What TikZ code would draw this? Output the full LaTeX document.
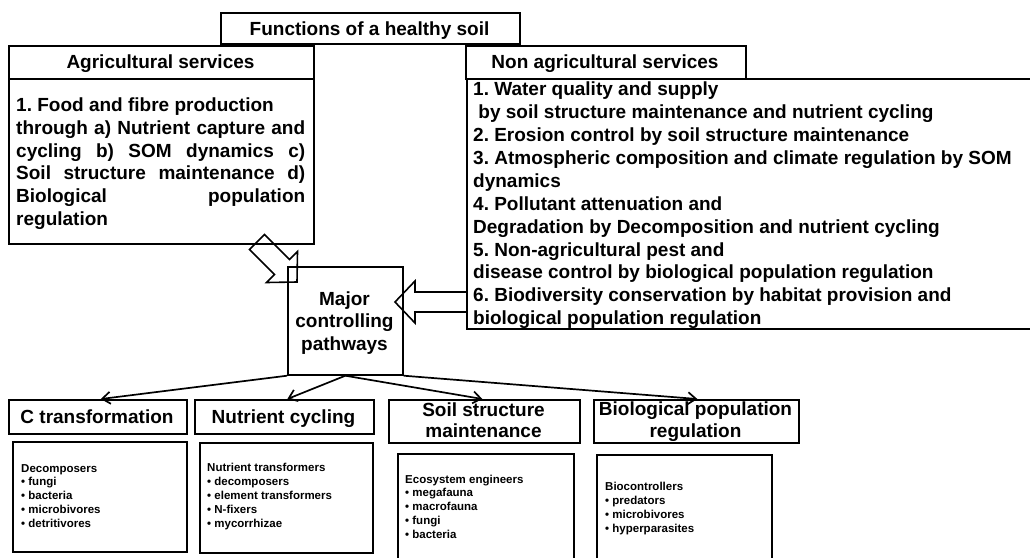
\documentclass[tikz,border=0pt]{standalone}
\usepackage{fontspec}
\setmainfont{Liberation Sans}
\usetikzlibrary{arrows.meta}
\frenchspacing
\newcommand\myml[2]{\vtop{\baselineskip=#1\relax\lineskiplimit=-50pt\relax\lineskip=0pt\relax #2}}
\newcommand\myL[1]{\hbox{#1}}
\newcommand\myC[1]{\hbox to 0pt{\hss#1\hss}}
\newcommand\myJ[2]{\hbox{\makebox[#1][s]{#2}}}
\begin{document}
\frenchspacing
\begin{tikzpicture}[x=1pt,y=-1pt,
  box/.style={draw, line width=1.7pt, inner sep=0pt, anchor=north west},
  big/.style={inner sep=0pt, font=\fontsize{19}{23}\selectfont\bfseries\frenchspacing},
  small/.style={inner sep=0pt, anchor=base west, font=\fontsize{11.5}{13.9}\selectfont\bfseries},
  conn/.style={line width=1.7pt, -{Straight Barb[length=8pt,width=12pt,line width=1.7pt]}},
  blockarrow/.style={line width=1.6pt, line join=miter}]
\useasboundingbox (0,0) rectangle (1030,557);
\clip (0,0) rectangle (1030,557);
% top boxes
\node[box, minimum width=299pt, minimum height=31pt] (title) at (220,12) {};
\node[big, anchor=base] (titletext) at (369.5,35) {Functions of a healthy soil};
\node[box, minimum width=305pt, minimum height=33pt] (agrihead) at (8,45) {};
\node[big, anchor=base] (agriheadtext) at (160.5,68) {Agricultural services};
\node[box, minimum width=305pt, minimum height=165pt] (agribody) at (8,78) {};
\node[big, anchor=base west] (agritext) at (16,111.7) {\myml{22.7pt}{%
\myL{1. Food and fibre production}%
\myJ{289pt}{through a) Nutrient capture and}%
\myJ{289pt}{cycling b) SOM dynamics c)}%
\myJ{289pt}{Soil structure maintenance d)}%
\myJ{289pt}{Biological population}%
\myL{regulation}}};
\node[box, minimum width=280pt, minimum height=33pt] (nonhead) at (465,45) {};
\node[big, anchor=base] (nonheadtext) at (605,68) {Non agricultural services};
\node[box, minimum width=580pt, minimum height=250pt] (nonbody) at (466,78) {};
\node[big, anchor=base west] (nontext) at (473,95.7) {\myml{22.9pt}{%
\myL{1. Water quality and supply}%
\myL{\ by soil structure maintenance and nutrient cycling}%
\myL{2. Erosion control by soil structure maintenance}%
\myL{3. Atmospheric composition and climate regulation by SOM}%
\myL{dynamics}%
\myL{4. Pollutant attenuation and}%
\myL{Degradation by Decomposition and nutrient cycling}%
\myL{5. Non-agricultural pest and}%
\myL{disease control by biological population regulation}%
\myL{6. Biodiversity conservation by habitat provision and}%
\myL{biological population regulation}}};
% major box
\node[box, minimum width=115pt, minimum height=108pt] (major) at (287,266) {};
\node[big, anchor=base] (majortext) at (344.5,305) {\myml{22.5pt}{\myC{Major}\myC{controlling}\myC{pathways}}};
% block arrows
\draw[blockarrow] (249.5,249.5) -- (274.5,274.5) -- (266.5,282.5) -- (297,282) -- (297.5,251.5) -- (289.5,259.5) -- (264.5,234.5) -- cycle;
\draw[blockarrow] (466,292) -- (415,292) -- (415,281) -- (395,302) -- (415,323) -- (415,312) -- (466,312);
% bottom headers
\node[box, minimum width=178pt, minimum height=34pt] (chead) at (8,399) {};
\node[big, anchor=base] (cheadtext) at (97,423) {C transformation};
\node[box, minimum width=179pt, minimum height=34pt] (nhead) at (194,399) {};
\node[big, anchor=base] (nheadtext) at (283.5,423) {Nutrient cycling};
\node[box, minimum width=191pt, minimum height=43pt] (shead) at (388,399) {};
\node[big, anchor=base] (sheadtext) at (483.5,416) {\myml{21pt}{\myC{Soil structure}\myC{maintenance}}};
\node[box, minimum width=205pt, minimum height=43pt] (bhead) at (593,399) {};
\node[big, anchor=base] (bheadtext) at (695.5,415) {\myml{22pt}{\myC{Biological population}\myC{regulation}}};
% bottom boxes
\node[box, minimum width=174pt, minimum height=110pt] (cbox) at (12,441) {};
\node[small] (ctext) at (21,472) {\myml{13.9pt}{\myL{Decomposers}\myL{• fungi}\myL{• bacteria}\myL{• microbivores}\myL{• detritivores}}};
\node[box, minimum width=173pt, minimum height=110pt] (nbox) at (199,442) {};
\node[small] (ntext) at (207,471.7) {\myml{13.9pt}{\myL{Nutrient transformers}\myL{• decomposers}\myL{• element transformers}\myL{• N-fixers}\myL{• mycorrhizae}}};
\node[box, minimum width=176pt, minimum height=120pt] (sbox) at (397,453) {};
\node[small] (stext) at (405,483) {\myml{13.9pt}{\myL{Ecosystem engineers}\myL{• megafauna}\myL{• macrofauna}\myL{• fungi}\myL{• bacteria}}};
\node[box, minimum width=175pt, minimum height=120pt] (bbox) at (596,454) {};
\node[small] (btext) at (605,490.7) {\myml{13.9pt}{\myL{Biocontrollers}\myL{• predators}\myL{• microbivores}\myL{• hyperparasites}}};
% connectors
\draw[conn] (major.south west) -- ([xshift=3pt]chead.north);
\draw[conn] (major.south) -- ([xshift=3pt]nhead.north);
\draw[conn] (major.south) -- ([xshift=-2pt]shead.north);
\draw[conn] (major.south east) -- ([xshift=1pt]bhead.north);
\end{tikzpicture}
\end{document}
